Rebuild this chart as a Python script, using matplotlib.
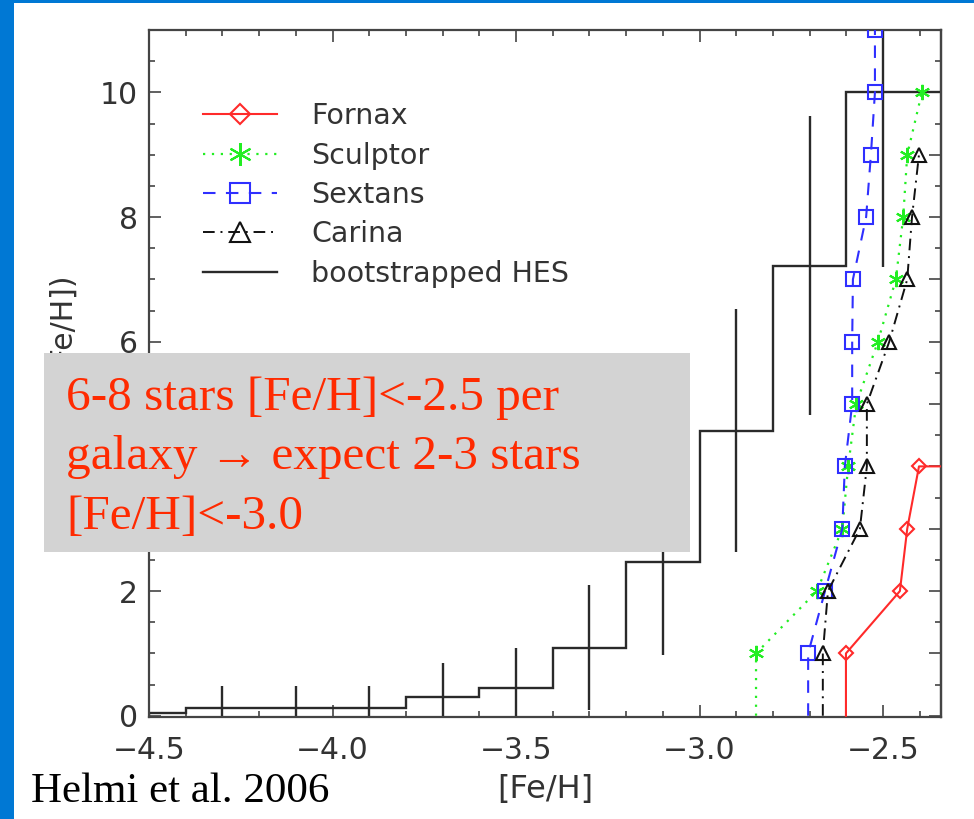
import matplotlib
matplotlib.use("Agg")
import matplotlib.pyplot as plt
import numpy as np
from matplotlib.patches import Rectangle
from matplotlib.lines import Line2D
from matplotlib.ticker import MultipleLocator

# ---------------- data ----------------
hes_edges = [-4.5, -4.4, -4.2, -4.0, -3.8, -3.6, -3.4, -3.2, -3.0, -2.8, -2.6, -2.3]
hes_levels = [0.05, 0.13, 0.13, 0.13, 0.30, 0.45, 1.09, 2.46, 4.57, 7.22, 10.0]
hes_err_x = [-4.3, -4.1, -3.9, -3.7, -3.5, -3.3, -3.1, -2.9, -2.7, -2.5]
hes_err_y = [0.13, 0.13, 0.13, 0.30, 0.45, 1.09, 2.46, 4.57, 7.22, 10.0]
hes_err = [0.35, 0.35, 0.35, 0.55, 0.64, 1.0, 1.48, 1.95, 2.4, 2.8]

fornax_x = [-2.601, -2.601, -2.454, -2.434, -2.402, -2.30]
fornax_y = [0, 1, 2, 3, 4, 4]
sculptor_x = [-2.846, -2.846, -2.680, -2.611, -2.595, -2.573, -2.514, -2.465, -2.445, -2.434, -2.394]
sculptor_y = [0, 1, 2, 3, 4, 5, 6, 7, 8, 9, 10]
sextans_x = [-2.704, -2.704, -2.658, -2.611, -2.604, -2.584, -2.584, -2.582, -2.546, -2.533, -2.522, -2.522]
sextans_y = [0, 1, 2, 3, 4, 5, 6, 7, 8, 9, 10, 11]
carina_x = [-2.664, -2.664, -2.650, -2.563, -2.544, -2.544, -2.483, -2.434, -2.421, -2.402]
carina_y = [0, 1, 2, 3, 4, 5, 6, 7, 8, 9]

x_ticks = [-4.5, -4.0, -3.5, -3.0, -2.5]
y_ticks = [0, 2, 4, 6, 8, 10]

note_lines = ["6-8 stars [Fe/H]<-2.5 per",
              "galaxy \u2192 expect 2-3 stars",
              "[Fe/H]<-3.0"]
credit = "Helmi et al. 2006"

# ---------------- figure ----------------
W, H = 974, 819
fig = plt.figure(figsize=(W / 100, H / 100), dpi=100)
fig.patch.set_facecolor("white")

def fx(px):
    return px / W

def fy(py):
    return 1 - py / H

ax = fig.add_axes([fx(149), fy(717), fx(941) - fx(149), fy(30) - fy(717)])
ax.set_xlim(-4.5, -2.342)
ax.set_ylim(-0.02, 11.0)

axcol = "#444444"
txtcol = "#333333"
for s in ax.spines.values():
    s.set_color(axcol)
    s.set_linewidth(1.6)

ax.xaxis.set_minor_locator(MultipleLocator(0.1))
ax.set_xticks(x_ticks)
ax.set_xticklabels(["\u2212%.1f" % abs(v) for v in x_ticks])
ax.set_yticks(y_ticks)
ax.yaxis.set_minor_locator(MultipleLocator(0.5))
ax.tick_params(which="both", direction="in", top=True, right=False,
               color=axcol, width=1.2, labelcolor=txtcol)
ax.tick_params(which="major", length=8.6, labelsize=21.5)
ax.tick_params(which="minor", length=4.3)
ax.tick_params(axis="x", which="major", pad=14)
ax.tick_params(axis="y", which="major", pad=8)

sec = ax.secondary_yaxis("right")
sec.yaxis.set_major_locator(MultipleLocator(1))
sec.yaxis.set_minor_locator(MultipleLocator(0.5))
sec.tick_params(which="both", direction="in", color=axcol, width=1.2, labelright=False)
sec.tick_params(which="major", length=8.6)
sec.tick_params(which="minor", length=4.3)
sec.spines["right"].set_color(axcol)
sec.spines["right"].set_linewidth(1.6)

hescol = "#2a2a2a"
ax.stairs(hes_levels, hes_edges, color=hescol, linewidth=1.7, zorder=2)
ax.errorbar(hes_err_x, hes_err_y, yerr=hes_err, fmt="none", ecolor=hescol,
            elinewidth=1.7, capsize=0, zorder=2)

mew = 1.5
ax.plot(fornax_x, fornax_y, color="#ff2a2a", linestyle="-", linewidth=1.5,
        marker="D", markersize=7, markerfacecolor="none", markeredgewidth=mew,
        markevery=[1, 2, 3, 4], label="Fornax", zorder=3)
ax.plot(sculptor_x, sculptor_y, color="#22ee22", linestyle=(0, (1, 3)), linewidth=1.6,
        marker=(6, 2, 0), markersize=11, markeredgewidth=mew,
        markevery=list(range(1, len(sculptor_x))), label="Sculptor", zorder=3)
ax.plot(sextans_x, sextans_y, color="#2f2fff", linestyle=(0, (6, 5)), linewidth=1.5,
        marker="s", markersize=9.5, markerfacecolor="none", markeredgewidth=mew,
        markevery=list(range(1, len(sextans_x))), label="Sextans", zorder=3)
ax.plot(carina_x, carina_y, color="#111111", linestyle=(0, (6, 3, 1, 3)), linewidth=1.4,
        marker="^", markersize=9.5, markerfacecolor="none", markeredgewidth=mew,
        markevery=list(range(1, len(carina_x))), label="Carina", zorder=3)

handles, labels = ax.get_legend_handles_labels()
order = ["Fornax", "Sculptor", "Sextans", "Carina", "bootstrapped HES"]
hmap = dict(zip(labels, handles))
hmap["bootstrapped HES"] = Line2D([], [], color=hescol, linewidth=1.7)
leg = ax.legend([hmap[k] for k in order], order, loc="upper left",
                bbox_to_anchor=(0.068, 0.895), frameon=False, fontsize=20.5,
                handlelength=2.6, handletextpad=1.2, labelspacing=0.4,
                borderpad=0, borderaxespad=0, markerscale=1.5)
for t in leg.get_texts():
    t.set_color(txtcol)

ax.set_xlabel("[Fe/H]", fontsize=23, color=txtcol, labelpad=6)
fig.text(fx(61), fy(353), "N(<[Fe/H])", rotation=90, ha="center", va="center",
         fontsize=21.5, color=txtcol)

# blue slide border
fig.add_artist(Rectangle((0, 0), fx(14), 1, transform=fig.transFigure,
                         facecolor="#0078d4", edgecolor="none", zorder=10))
fig.add_artist(Rectangle((0, fy(2.5)), 1, 1 - fy(2.5), transform=fig.transFigure,
                         facecolor="#0078d4", edgecolor="none", zorder=10))

# gray annotation box
fig.add_artist(Rectangle((fx(44), fy(552)), fx(690) - fx(44), fy(353) - fy(552),
                         transform=fig.transFigure, facecolor="#d3d3d3",
                         edgecolor="none", zorder=20))
serif = ["Liberation Serif", "DejaVu Serif"]
for line, base in zip(note_lines, [410, 469, 529]):
    fig.text(fx(66), fy(base), line, ha="left", va="baseline", fontsize=35.5,
             color="#ff2a00", family=serif, zorder=21)

fig.text(fx(31), fy(802), credit, ha="left", va="baseline", fontsize=31,
         color="black", family=serif, zorder=21)

fig.savefig("out.png", dpi=100)
